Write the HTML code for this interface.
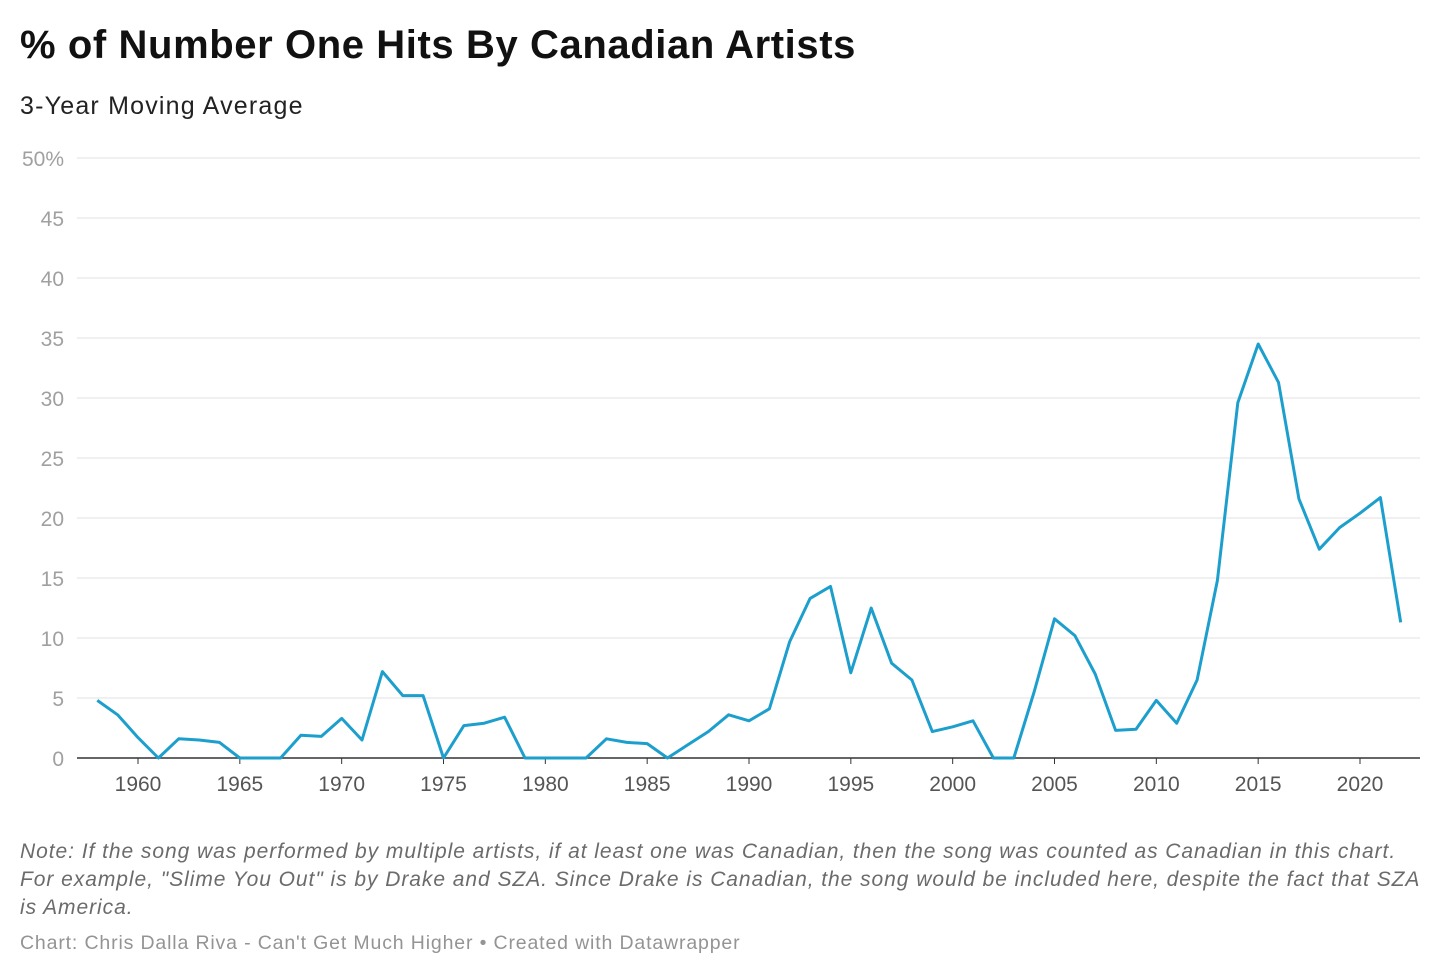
<!DOCTYPE html>
<html><head><meta charset="utf-8">
<style>
body{margin:0;background:#fff;font-family:"Liberation Sans",sans-serif;width:1440px;height:978px;overflow:hidden;position:relative}
.t{position:absolute;left:20px;top:23px;font-size:40px;font-weight:bold;color:#111;margin:0;letter-spacing:0.6px;white-space:nowrap}
.s{position:absolute;left:20px;top:92px;font-size:25px;color:#222;letter-spacing:1.2px}
.n{position:absolute;left:20px;top:838px;font-size:21px;font-style:italic;color:#6b6b6b;line-height:28px;letter-spacing:0.95px;white-space:nowrap}
.f{position:absolute;left:20px;top:932px;font-size:19.5px;color:#949494;letter-spacing:0.85px;white-space:nowrap}
svg{position:absolute;left:0;top:0}
</style></head><body>
<h1 class="t">% of Number One Hits By Canadian Artists</h1>
<div class="s">3-Year Moving Average</div>
<svg id="c" width="1440" height="830"></svg>
<div class="n">Note: If the song was performed by multiple artists, if at least one was Canadian, then the song was counted as Canadian in this chart.<br>For example, "Slime You Out" is by Drake and SZA. Since Drake is Canadian, the song would be included here, despite the fact that SZA<br>is America.</div>
<div class="f">Chart: Chris Dalla Riva - Can't Get Much Higher • Created with Datawrapper</div>
<script>
const years=[1958,1959,1960,1961,1962,1963,1964,1965,1966,1967,1968,1969,1970,1971,1972,1973,1974,1975,1976,1977,1978,1979,1980,1981,1982,1983,1984,1985,1986,1987,1988,1989,1990,1991,1992,1993,1994,1995,1996,1997,1998,1999,2000,2001,2002,2003,2004,2005,2006,2007,2008,2009,2010,2011,2012,2013,2014,2015,2016,2017,2018,2019,2020,2021,2022];
const values=[4.8,3.6,1.7,0,1.6,1.5,1.3,0,0,0,1.9,1.8,3.3,1.5,7.2,5.2,5.2,0,2.7,2.9,3.4,0,0,0,0,1.6,1.3,1.2,0,1.1,2.2,3.6,3.1,4.1,9.7,13.3,14.3,7.1,12.5,7.9,6.5,2.2,2.6,3.1,0,0,5.5,11.6,10.2,7.0,2.3,2.4,4.8,2.9,6.5,14.8,29.6,34.5,31.3,21.6,17.4,19.2,20.4,21.7,11.3];
const yTicks=[0,5,10,15,20,25,30,35,40,45,50];
const yTickLabels=["0","5","10","15","20","25","30","35","40","45","50%"];
const xTicks=[1960,1965,1970,1975,1980,1985,1990,1995,2000,2005,2010,2015,2020];
const svg=document.getElementById('c');const NS='http://www.w3.org/2000/svg';
const x=v=>138+(v-1960)*(1360-138)/60;
const y=v=>758-v*12;
function mk(t,a){const e=document.createElementNS(NS,t);for(const k in a)e.setAttribute(k,a[k]);svg.appendChild(e);return e;}
yTicks.forEach((v,i)=>{
 const l=mk('line',{x1:77,x2:1420,y1:y(v),y2:y(v),stroke:v===0?'#333':'#e0e0e0','stroke-width':v===0?1.5:1});
 
 
 const t=mk('text',{x:64,y:y(v)+8,'text-anchor':'end','font-size':21,fill:'#a0a0a0','font-family':'Liberation Sans,sans-serif'});
 t.textContent=yTickLabels[i];
 
 
});
xTicks.forEach(v=>{
 const tk=mk('line',{x1:x(v),x2:x(v),y1:758,y2:764,stroke:'#333','stroke-width':1});
 
 
 const t=mk('text',{x:x(v),y:791,'text-anchor':'middle','font-size':21,fill:'#555','font-family':'Liberation Sans,sans-serif'});
 t.textContent=v;
 
 
});
const p=mk('path',{d:years.map((yr,i)=>(i?'L':'M')+x(yr).toFixed(1)+','+y(values[i]).toFixed(1)).join(''),fill:'none',stroke:'#1d9fcd','stroke-width':3,'stroke-linejoin':'round'});


</script>
</body></html>
